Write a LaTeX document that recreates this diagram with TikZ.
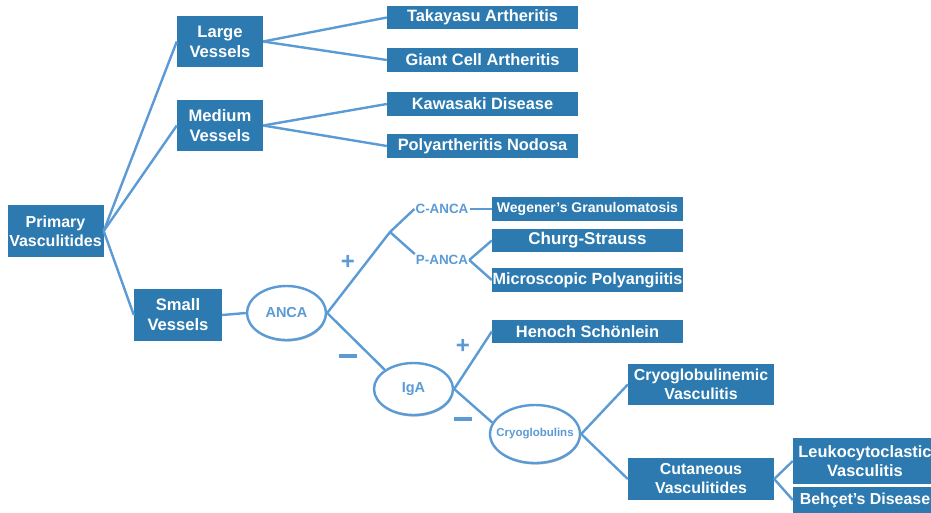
\documentclass[tikz,border=0pt]{standalone}
\usepackage{fontspec}
\setmainfont{Liberation Sans}
\usetikzlibrary{shapes.geometric,shadows}
\definecolor{boxblue}{RGB}{44,122,176}
\definecolor{lineblue}{RGB}{91,155,213}
\begin{document}
\begin{tikzpicture}[x=1pt,y=-1pt,
  box/.style={rectangle, fill=boxblue, text=white, align=center, inner sep=0pt,
    font=\bfseries\fontsize{16.4}{19.5}\selectfont},
  oval/.style={ellipse, draw=lineblue, line width=2.4pt, fill=white, inner sep=0pt,
    text=lineblue, font=\bfseries\fontsize{14.5}{16}\selectfont,
    drop shadow={shadow xshift=0.6pt, shadow yshift=-1.6pt, fill=black!35, opacity=0.8}},
  lbl/.style={text=lineblue, inner sep=1pt, font=\bfseries\fontsize{13.4}{15}\selectfont},
  sign/.style={text=lineblue, inner sep=0pt, font=\bfseries\fontsize{24}{24}\selectfont},
  conn/.style={draw=lineblue, line width=2.4pt}
]
\clip (0,0) rectangle (931,512);
\useasboundingbox (0,0) rectangle (931,512);
\fill[white] (0,0) rectangle (931,512);

% first level
\node[box, minimum width=96pt, minimum height=52pt, font=\bfseries\fontsize{16}{19}\selectfont] (prim) at (55.5,231) {Primary\\Vasculitides};
\node[box, minimum width=86pt, minimum height=51pt, font=\bfseries\fontsize{16.6}{20}\selectfont] (large) at (220,41.5) {Large\\Vessels};
\node[box, minimum width=86pt, minimum height=51pt, font=\bfseries\fontsize{16.6}{20}\selectfont] (medium) at (220,125.5) {Medium\\Vessels};
\node[box, minimum width=88pt, minimum height=52pt, font=\bfseries\fontsize{16.6}{20}\selectfont] (small) at (178,315) {Small\\Vessels};

% large / medium leaves
\node[box, minimum width=191pt, minimum height=23pt] (taka) at (482.5,17.5) {Takayasu Artheritis};
\node[box, minimum width=191pt, minimum height=24pt] (giant) at (482.5,60) {Giant Cell Artheritis};
\node[box, minimum width=191pt, minimum height=24pt] (kawa) at (482.5,104) {Kawasaki Disease};
\node[box, minimum width=191pt, minimum height=24pt] (poly) at (482.5,146) {Polyartheritis Nodosa};

% small vessels subtree
\node[oval, minimum width=79pt, minimum height=54pt] (anca) at (286.5,313) {ANCA};
\node[lbl] (canca) at (442,209) {C-ANCA};
\node[lbl] (panca) at (442,260) {P-ANCA};
\coordinate (br) at (390,232);
\node[box, minimum width=191pt, minimum height=24pt, font=\bfseries\fontsize{14}{16}\selectfont] (weg) at (587.5,209) {Wegener’s Granulomatosis};
\node[box, minimum width=191pt, minimum height=23pt, font=\bfseries\fontsize{17}{19}\selectfont] (churg) at (587.5,240.5) {Churg-Strauss};
\node[box, minimum width=191pt, minimum height=24pt, font=\bfseries\fontsize{16.2}{19}\selectfont] (micro) at (587.5,280) {Microscopic Polyangiitis};

\node[oval, minimum width=79pt, minimum height=52pt] (iga) at (413.5,389) {IgA};
\node[box, minimum width=191pt, minimum height=23pt] (henoch) at (587.5,331.5) {Henoch Schönlein};
\node[oval, minimum width=90pt, minimum height=58pt, inner xsep=-7.5pt, font=\bfseries\fontsize{11.5}{13}\selectfont] (cryo) at (535,434) {Cryoglobulins};
\node[box, minimum width=146pt, minimum height=41pt, font=\bfseries\fontsize{15.9}{19}\selectfont] (cryov) at (701,384.5) {Cryoglobulinemic\\Vasculitis};
\node[box, minimum width=146pt, minimum height=42pt, font=\bfseries\fontsize{15.9}{19}\selectfont] (cut) at (701,479) {Cutaneous\\Vasculitides};
\node[box, minimum width=144pt, minimum height=46pt, font=\bfseries\fontsize{16.4}{18.5}\selectfont] (leuko) at (865,461) {Leukocytoclastic\\Vasculitis};
\node[box, minimum width=144pt, minimum height=26pt, font=\bfseries\fontsize{15.9}{18}\selectfont] (beh) at (865,500) {Behçet’s Disease};

% signs
\node[sign] (p1) at (348,262) {+};
\node[sign] (p2) at (463,346) {+};
\node[inner sep=0pt] (m1) at (348,356) {\textcolor{lineblue}{\rule{18pt}{3.2pt}}};
\node[inner sep=0pt] (m2) at (463,419) {\textcolor{lineblue}{\rule{18pt}{3.2pt}}};

% connectors
\draw[conn] (prim.east) -- (large.west);
\draw[conn] (prim.east) -- (medium.west);
\draw[conn] (prim.east) -- (small.west);
\draw[conn] (large.east) -- (taka.west);
\draw[conn] (large.east) -- (giant.west);
\draw[conn] (medium.east) -- (kawa.west);
\draw[conn] (medium.east) -- (poly.west);
\draw[conn] (small.east) -- (anca.west);
\draw[conn] (anca.east) -- (br) -- (canca.west);
\draw[conn] (br) -- (panca.north west);
\draw[conn] (canca.east) -- (weg.west);
\draw[conn] (panca.east) -- (churg.west);
\draw[conn] (panca.east) -- (micro.west);
\draw[conn] (anca.east) -- (iga.north west);
\draw[conn] (iga.east) -- (henoch.west);
\draw[conn] (iga.east) -- (cryo.165);
\draw[conn] (cryo.east) -- (cryov.west);
\draw[conn] (cryo.east) -- (cut.west);
\draw[conn] (cut.east) -- (leuko.west);
\draw[conn] (cut.east) -- (beh.west);
\end{tikzpicture}
\end{document}
